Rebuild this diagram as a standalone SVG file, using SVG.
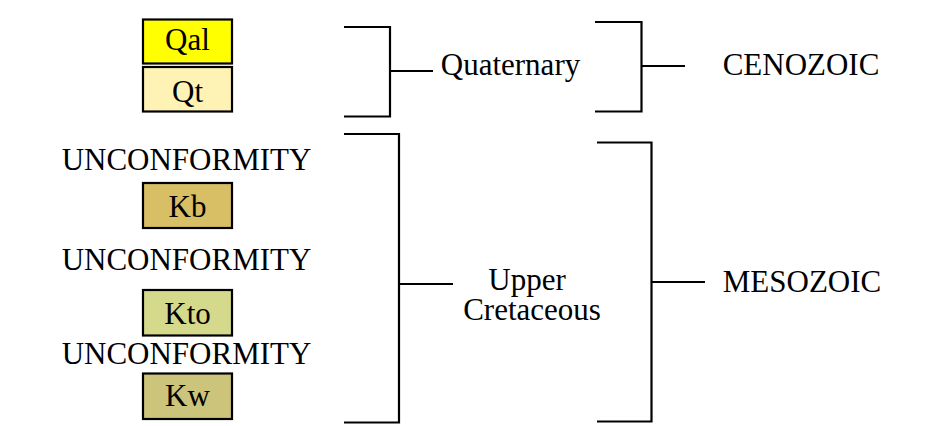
<svg xmlns="http://www.w3.org/2000/svg" width="929" height="426" viewBox="0 0 929 426">
<style>
text{font-family:"Liberation Serif","Times New Roman",serif;font-size:31px;fill:#000;text-anchor:middle}
.box{stroke:#000;stroke-width:2.2}
.br{fill:none;stroke:#000;stroke-width:2.2}
</style>
<rect width="929" height="426" fill="#fff"/>
<g id="Qal"><rect class="box" x="143" y="19.5" width="89" height="44" fill="#FFFF00"/><text x="187.5" y="50">Qal</text></g>
<g id="Qt"><rect class="box" x="143" y="67" width="89" height="44.5" fill="#FEF3B4"/><text x="187.5" y="101.5">Qt</text></g>
<g id="unc1"><text x="186.5" y="169.5">UNCONFORMITY</text></g>
<g id="Kb"><rect class="box" x="143" y="183" width="89" height="45" fill="#D8BE64"/><text x="187.5" y="216.5">Kb</text></g>
<g id="unc2"><text x="186.5" y="270">UNCONFORMITY</text></g>
<g id="Kto"><rect class="box" x="143" y="290" width="89" height="45.5" fill="#D5D98B"/><text x="187.5" y="323.5">Kto</text></g>
<g id="unc3"><text x="186.5" y="364">UNCONFORMITY</text></g>
<g id="Kw"><rect class="box" x="143" y="373.5" width="89" height="45.5" fill="#CBC47A"/><text x="187.5" y="405.5">Kw</text></g>
<g id="quaternary"><text x="510.5" y="75">Quaternary</text></g>
<g id="cenozoic"><text x="801" y="75">CENOZOIC</text></g>
<g id="upper-cretaceous"><text x="527" y="290" font-size="30.5">Upper</text><text x="532" y="319.5" font-size="30.5">Cretaceous</text></g>
<g id="mesozoic"><text x="802" y="291.5">MESOZOIC</text></g>
<g id="connectors">
<path class="br" d="M344,27 H390 V116.5 H344 M390,71 H433"/>
<path class="br" d="M595,22 H641.5 V111.5 H595 M641.5,66 H685"/>
<path class="br" d="M344,134 H399 V422.5 H344 M399,284 H453"/>
<path class="br" d="M597,142.5 H651.5 V421.5 H597 M651.5,282 H705"/>
</g>
</svg>
